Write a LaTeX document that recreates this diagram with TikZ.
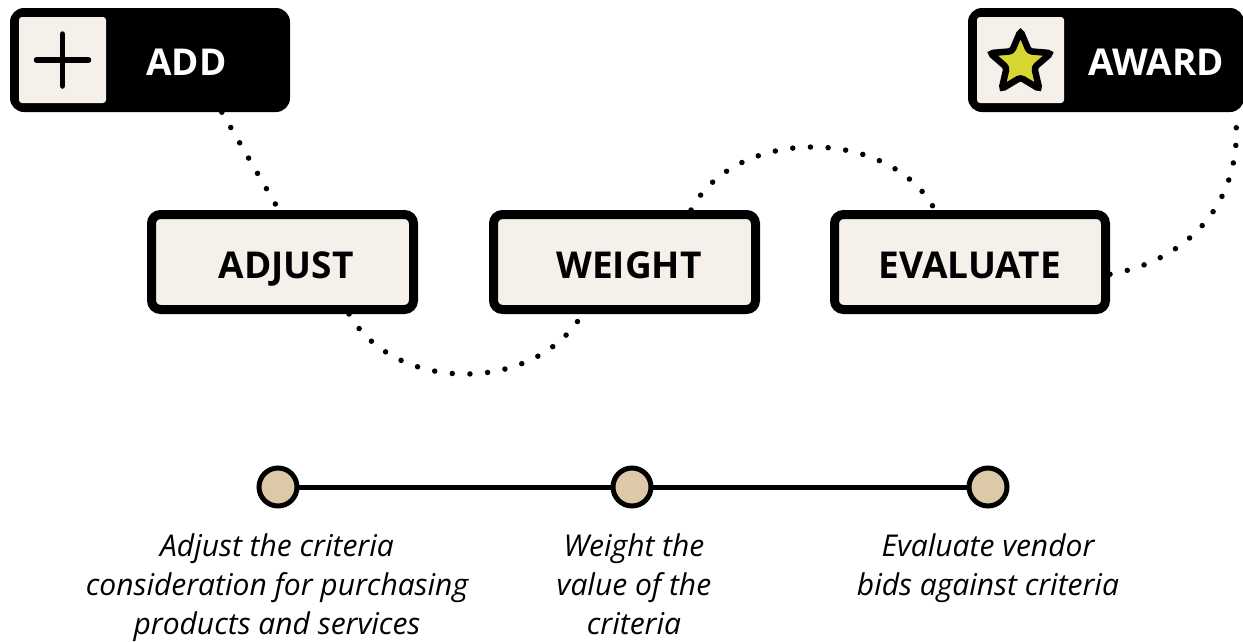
\documentclass[tikz,border=0pt]{standalone}
\usepackage{fontspec}
\setmainfont{Open Sans}
\usetikzlibrary{shapes.geometric}
\definecolor{cream}{HTML}{F5F0EA}
\definecolor{tan}{HTML}{DDC9A8}
\definecolor{starfill}{HTML}{D8D633}
\tikzset{
  stagebox/.style={draw=black,line width=9pt,fill=cream,rounded corners=9pt,minimum width=262pt,minimum height=95pt,inner sep=0pt,text height=33pt,text depth=0pt,font=\fontsize{37}{37}\selectfont\bfseries},
  tabbox/.style={fill=black,rounded corners=14pt,minimum height=104pt,inner sep=0pt},
  iconbox/.style={fill=cream,rounded corners=3pt,minimum width=87pt,minimum height=86pt,inner sep=0pt},
  tabtext/.style={text=white,inner sep=0pt,font=\fontsize{37}{37}\selectfont\bfseries},
  dotline/.style={line width=5.5pt,line cap=round,dash pattern=on 0pt off 17.7pt},
  stop/.style={circle,draw=black,line width=5pt,fill=tan,minimum size=38pt,inner sep=0pt,outer sep=0pt},
  note/.style={align=center,inner sep=0pt,font=\fontsize{30}{39}\selectfont\itshape}
}
\begin{document}
\begin{tikzpicture}[x=1pt,y=-1pt]
  \useasboundingbox (0,0) rectangle (1243,641);
  \clip (0,0) rectangle (1243,641);

  \node[tabbox,minimum width=280pt] (add) at (150,60) {};
  \node[iconbox] (addicon) at (62.5,60) {};
  \node[tabtext] (addtext) at (186.5,62) {ADD};
  \draw[line width=5.5pt,line cap=round] (addicon.center) ++(-26,0) -- ++(52,0);
  \draw[line width=5.5pt,line cap=round] (addicon.center) ++(0,-26) -- ++(0,52);

  \node[tabbox,minimum width=276pt] (award) at (1106,60) {};
  \node[iconbox] (awardicon) at (1020.5,60) {};
  \node[tabtext] (awardtext) at (1156,62) {AWARD};
  \node[star,star points=5,star point ratio=2.2,draw=black,line width=6.5pt,fill=starfill,rounded corners=3pt,minimum size=64pt,inner sep=0pt] (awardstar) at (1020.5,63) {};

  \node[stagebox] (adjust) at (282.5,262) {\hspace*{7pt}ADJUST};
  \node[stagebox] (weight) at (624.5,262) {\hspace*{9pt}WEIGHT};
  \node[stagebox,minimum width=271pt] (evaluate) at (970,262) {EVALUATE};

  \draw[dotline] (add.-36.6) -- (adjust.94);
  \draw[dotline] (adjust.-38.4) .. controls (395,394) and (535,394) .. (weight.-129);
  \draw[dotline] (weight.38.4) .. controls (735,126) and (890,126) .. (evaluate.124);
  \draw[dotline] (evaluate.-5) .. controls (1190,260) and (1245,200) .. (award.-22);

  \node[stop] (stopa) at (278,487) {};
  \node[stop] (stopb) at (632,487) {};
  \node[stop] (stopc) at (988,487) {};
  \draw[line width=5pt] (stopa) -- (stopb);
  \draw[line width=5pt] (stopb) -- (stopc);

  \node[note,anchor=north] (adjustnote) at (277,533) {Adjust the criteria\\consideration for purchasing\\products and services};
  \node[note,anchor=north] (weightnote) at (634,533) {Weight the\\value of the\\criteria};
  \node[note,anchor=north] (evaluatenote) at (988,533) {Evaluate vendor\\bids against criteria};
\end{tikzpicture}
\end{document}
